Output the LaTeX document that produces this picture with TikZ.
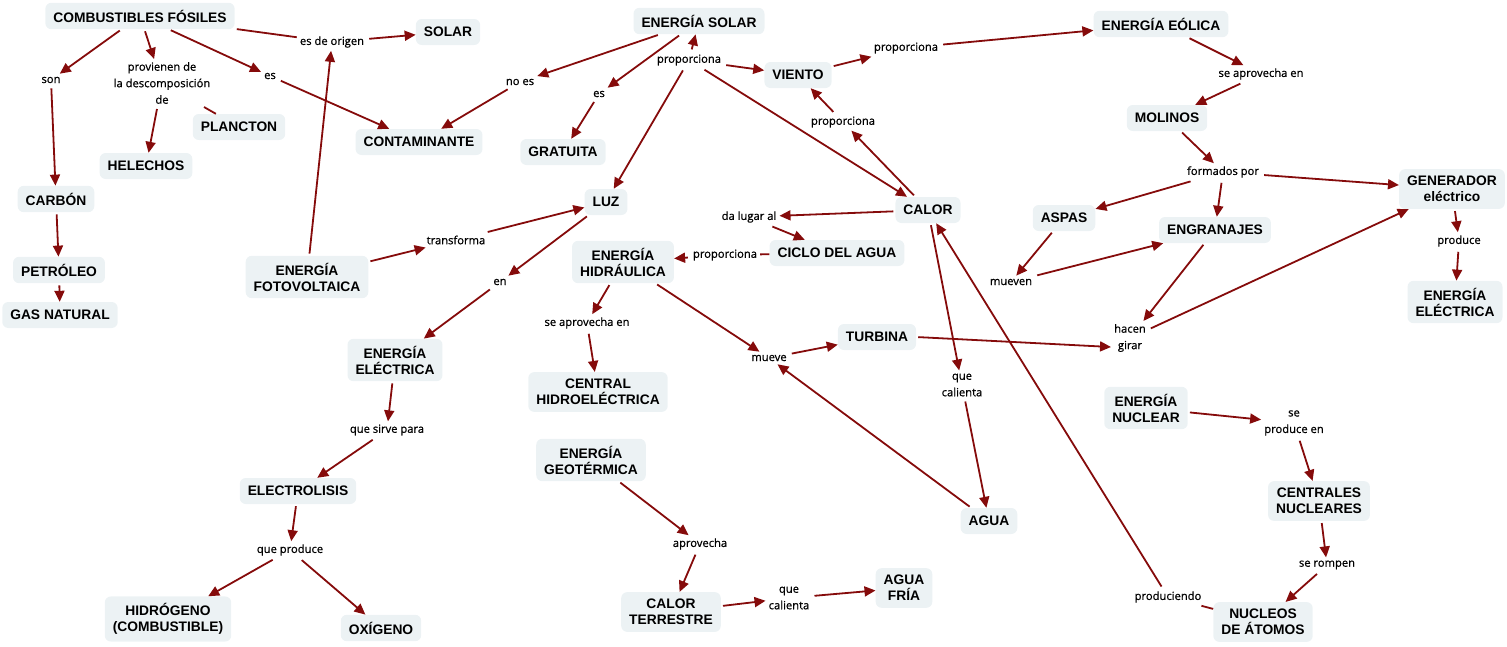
\documentclass[tikz,border=0pt]{standalone}
\usepackage{fontspec}
\setmainfont{Liberation Sans}
\newfontfamily\linkfont{Open Sans}[FakeBold=0.8]
\usetikzlibrary{arrows.meta}
\definecolor{cmred}{HTML}{850B0B}
\definecolor{cmfill}{HTML}{ECF2F4}

\begin{document}
\begin{tikzpicture}[
  x=1pt, y=-1pt,
  cpt/.style={fill=cmfill, rounded corners=6pt, align=center, inner xsep=8pt, inner ysep=7pt,
              minimum height=26pt, font=\fontsize{13.8}{16}\selectfont\bfseries},
  lbl/.style={align=center, inner sep=3pt, font=\linkfont\fontsize{11.2}{16.5}\selectfont},
  rel/.style={cmred, line width=1.8pt, -{Triangle[length=11pt,width=10pt]}, shorten <=2pt},
  seg/.style={cmred, line width=1.8pt},
]
\useasboundingbox (0,0) rectangle (1507,646);

% ---------------- fossil fuels ----------------
\node[cpt] (fosiles)  at (140,16)  {COMBUSTIBLES FÓSILES};
\node[cpt] (solar)    at (448,32)  {SOLAR};
\node[cpt] (contam)   at (419,142) {CONTAMINANTE};
\node[cpt] (plancton) at (239,127) {PLANCTON};
\node[cpt] (helechos) at (146,166) {HELECHOS};
\node[cpt] (carbon)   at (56,199)  {CARBÓN};
\node[cpt] (petroleo) at (59,270)  {PETRÓLEO};
\node[cpt] (gas)      at (60,315)  {GAS NATURAL};
\node[lbl] (son)    at (51,80)  {son};
\node[lbl] (prov)   at (162,83) {provienen de\\la descomposición\\de};
\node[lbl] (esf)    at (270,76) {es};
\node[lbl] (origen) at (332,42) {es de origen};
\draw[rel] (fosiles) -- (son);
\draw[rel] (son) -- (carbon);
\draw[rel] (carbon) -- (petroleo);
\draw[rel] (petroleo) -- (gas);
\draw[rel] (fosiles) -- (prov);
\draw[rel] (prov) -- (helechos);
\draw[seg] (prov) -- (plancton);
\draw[rel] (fosiles) -- (esf);
\draw[rel] (esf) -- (contam);
\draw[seg, shorten <=2pt] (fosiles) -- (origen);
\draw[rel] (origen) -- (solar);

% ---------------- solar energy ----------------
\node[cpt] (esolar)  at (699,21)  {ENERGÍA SOLAR};
\node[cpt] (viento)  at (798,75)  {VIENTO};
\node[cpt] (gratis)  at (563,152) {GRATUITA};
\node[cpt] (luz)     at (606,202) {LUZ};
\node[cpt] (calor)   at (928,210) {CALOR};
\node[lbl] (noes)    at (520,82)  {no es};
\node[lbl] (ess)     at (599,94)  {es};
\node[lbl] (prop1)   at (689,60)  {proporciona};
\node[lbl] (prop2)   at (906,48)  {proporciona};
\node[lbl] (prop3)   at (843,122) {proporciona};
\draw[rel] (esolar) -- (noes);
\draw[rel] (noes) -- (contam);
\draw[rel] (esolar) -- (ess);
\draw[rel] (ess) -- (gratis);
\draw[rel] (prop1) -- (esolar);
\draw[rel] (prop1) -- (viento);
\draw[rel] (prop1) -- (luz);
\draw[rel] (prop1) -- (calor);
\draw[rel] (viento) -- (prop2);
\draw[rel] (calor) -- (prop3);
\draw[rel] (prop3) -- (viento);

% ---------------- wind ----------------
\node[cpt] (eolica)  at (1161,24)  {ENERGÍA EÓLICA};
\node[cpt] (molinos) at (1167,118) {MOLINOS};
\node[cpt] (gener)   at (1452,189) {GENERADOR\\eléctrico};
\node[cpt] (aspas)   at (1064,218) {ASPAS};
\node[cpt] (engran)  at (1215,230) {ENGRANAJES};
\node[cpt] (elecb)   at (1455,302) {ENERGÍA\\ELÉCTRICA};
\node[lbl] (aprov1)  at (1261,74)  {se aprovecha en};
\node[lbl] (formad)  at (1223,172) {formados por};
\node[lbl] (mueven)  at (1011,282) {mueven};
\node[lbl] (hacen)   at (1130,338) {hacen\\girar};
\node[lbl] (produce) at (1459,241) {produce};
\draw[rel] (prop2) -- (eolica);
\draw[rel] (eolica) -- (aprov1);
\draw[rel] (aprov1) -- (molinos);
\draw[rel] (molinos) -- (formad);
\draw[rel] (formad) -- (aspas);
\draw[rel] (formad) -- (engran);
\draw[rel] (formad) -- (gener);
\draw[rel] (aspas) -- (mueven);
\draw[rel] (mueven) -- (engran);
\draw[rel] (engran) -- (hacen);
\draw[rel] (hacen) -- (gener);
\draw[rel] (gener) -- (produce);
\draw[rel] (produce) -- (elecb);

% ---------------- water and heat ----------------
\node[cpt] (hidra)   at (623,262) {ENERGÍA\\HIDRÁULICA};
\node[cpt] (ciclo)   at (837,253) {CICLO DEL AGUA};
\node[cpt] (turbina) at (877,337) {TURBINA};
\node[cpt] (central) at (598,392) {CENTRAL\\HIDROELÉCTRICA};
\node[cpt] (agua)    at (989,521) {AGUA};
\node[lbl] (lugar)   at (749,217) {da lugar al};
\node[lbl] (prop4)   at (725,255) {proporciona};
\node[lbl] (aprov2)  at (587,323) {se aprovecha en};
\node[lbl] (mueve)   at (769,358) {mueve};
\node[lbl] (cal1)    at (962,385) {que\\calienta};
\draw[rel] (calor) -- (lugar);
\draw[rel] (lugar) -- (ciclo);
\draw[seg] (ciclo) -- (prop4);
\draw[rel] (prop4) -- (hidra);
\draw[rel] (hidra) -- (aprov2);
\draw[rel] (aprov2) -- (central);
\draw[rel] (hidra) -- (mueve);
\draw[rel] (agua) -- (mueve);
\draw[rel] (mueve) -- (turbina);
\draw[rel] (turbina.east) -- ([yshift=-9pt]hacen.west);
\draw[rel] (calor) -- (cal1);
\draw[rel] (cal1) -- (agua);

% ---------------- light and electricity ----------------
\node[cpt] (foto)     at (307,277) {ENERGÍA\\FOTOVOLTAICA};
\node[cpt] (eleca)    at (395,360) {ENERGÍA\\ELÉCTRICA};
\node[cpt] (electro)  at (298,491) {ELECTROLISIS};
\node[cpt] (hidrog)   at (168,619) {HIDRÓGENO\\(COMBUSTIBLE)};
\node[cpt] (oxigeno)  at (381,628) {OXÍGENO};
\node[lbl] (transf)   at (456,240) {transforma};
\node[lbl] (en)       at (500,282) {en};
\node[lbl] (sirve)    at (387,430) {que sirve para};
\node[lbl] (qprod)    at (290,550) {que produce};
\draw[rel] (foto) -- (origen);
\draw[rel] (foto) -- (transf);
\draw[rel] (transf) -- (luz);
\draw[rel] (luz) -- (en);
\draw[rel] (en) -- (eleca);
\draw[rel] (eleca) -- (sirve);
\draw[rel] (sirve) -- (electro);
\draw[rel] (electro) -- (qprod);
\draw[rel] (qprod) -- (hidrog);
\draw[rel] (qprod) -- (oxigeno);

% ---------------- geothermal ----------------
\node[cpt] (geo)     at (591,460) {ENERGÍA\\GEOTÉRMICA};
\node[cpt] (terr)    at (671,612) {CALOR\\TERRESTRE};
\node[cpt] (fria)    at (904,588) {AGUA\\FRÍA};
\node[lbl] (aprov3)  at (700,544) {aprovecha};
\node[lbl] (cal2)    at (789,598) {que\\calienta};
\draw[rel] (geo) -- (aprov3);
\draw[rel] (aprov3) -- (terr);
\draw[rel] (terr) -- (cal2);
\draw[rel] (cal2) -- (fria);

% ---------------- nuclear ----------------
\node[cpt] (nuclear)  at (1146,408) {ENERGÍA\\NUCLEAR};
\node[cpt] (centrals) at (1319,501) {CENTRALES\\NUCLEARES};
\node[cpt] (nucleos)  at (1263,622) {NUCLEOS\\DE ÁTOMOS};
\node[lbl] (seprod)   at (1294,423) {se\\produce en};
\node[lbl] (rompen)   at (1327,565) {se rompen};
\node[lbl] (produc)   at (1168,597) {produciendo};
\draw[rel] (nuclear) -- (seprod);
\draw[rel] (seprod) -- (centrals);
\draw[rel] (centrals) -- (rompen);
\draw[rel] (rompen) -- (nucleos);
\draw[seg] (nucleos) -- (produc);
\draw[rel] (produc) -- (calor);

\end{tikzpicture}
\end{document}
